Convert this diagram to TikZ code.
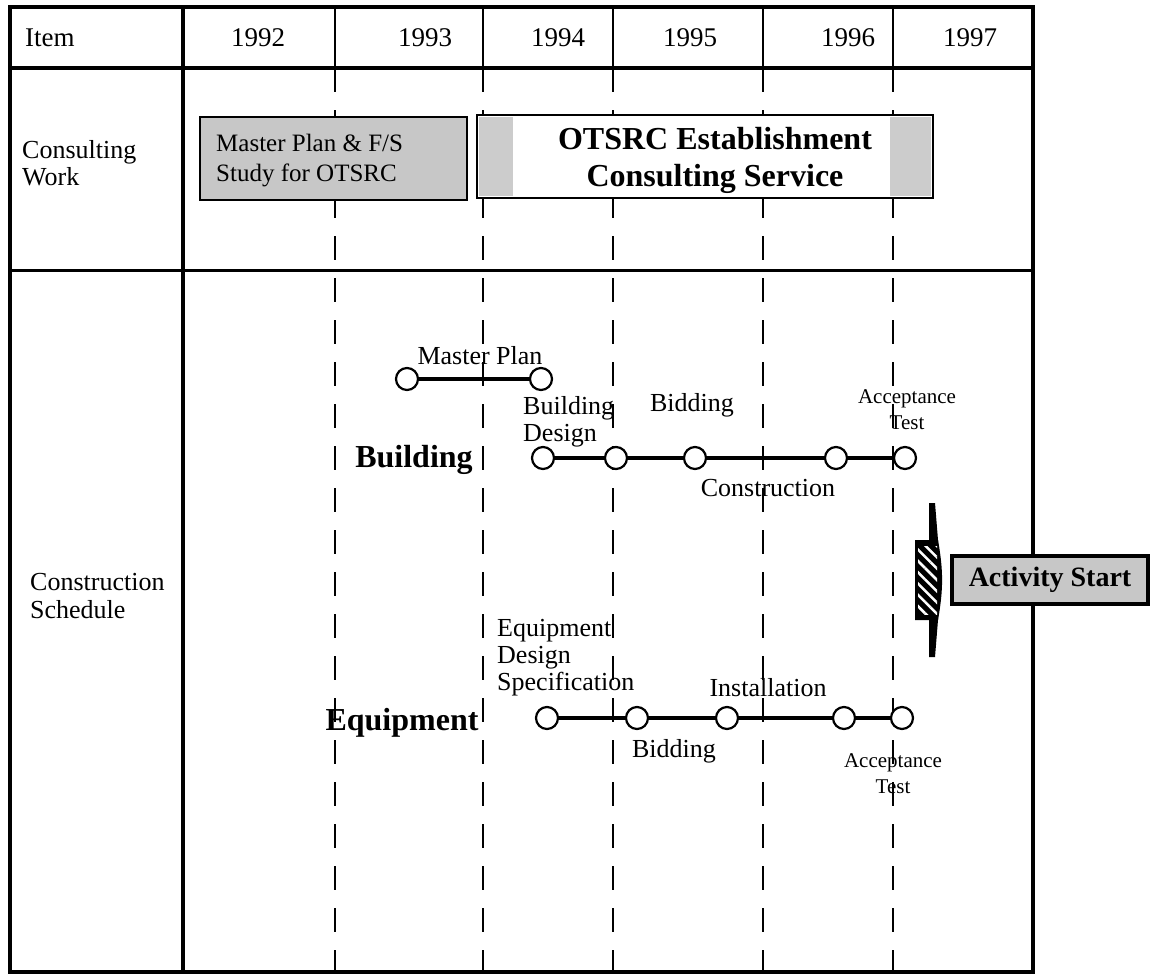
\documentclass[tikz,border=0pt]{standalone}
\usepackage{fontspec}
\setmainfont{Liberation Serif}
\usetikzlibrary{calc,patterns.meta}
\tikzset{
  head label/.style={font=\fontsize{27}{28}\selectfont,inner sep=0},
  item label/.style={font=\fontsize{26}{27}\selectfont,align=left,anchor=west,inner sep=0},
  step label/.style={font=\fontsize{26}{27}\selectfont,align=left,inner sep=0},
  small label/.style={font=\fontsize{21}{26}\selectfont,align=center,inner sep=0},
  bold label/.style={font=\fontsize{32}{36}\bfseries\selectfont,inner sep=0},
  milestone/.style={circle,draw,fill=white,line width=2.2pt,minimum size=22pt,inner sep=0},
  bar/.style={line width=3.5pt},
  year line/.style={line width=2.5pt,dash pattern=on 24pt off 18pt},
  start box/.style={draw,line width=4pt,fill=black!22,minimum width=196pt,minimum height=48pt,
    font=\fontsize{28}{30}\bfseries\selectfont}
}
\def\yearlines{335,483,613,763,893}
\def\tableL{10}
\def\tableR{1033}

\begin{document}
\begin{tikzpicture}[x=1pt,y=-1pt]
\useasboundingbox (0,0) rectangle (1151,978);
% 年の区切り線
\foreach \x in \yearlines {
  \draw[line width=2.5pt] (\x,7) -- (\x,68);
  \draw[year line] (\x,68) -- (\x,972);
}
% 表の枠
\draw[line width=3.5pt] (\tableL,7) rectangle (\tableR,972);
\draw[line width=3.5pt] (\tableL,68) -- (\tableR,68);
\draw[line width=3pt] (\tableL,270) -- (\tableR,270);
\draw[line width=3.5pt] (183,7) -- (183,972);
% 見出し
\node[head label,anchor=west] (item) at (25,38) {Item};
\foreach \x/\yr in {258/1992,425/1993,558/1994,690/1995,848/1996,970/1997}
  \node[head label] (y\yr) at (\x,38) {\yr};
\node[item label] (consulting) at (22,163) {Consulting\\Work};
\node[item label,font=\fontsize{26}{28}\selectfont] (schedule) at (30,596) {Construction\\Schedule};
% コンサルティング業務
\filldraw[draw=black,fill=black!22,line width=2.5pt] (200,117) rectangle (467,200);
\node[step label,font=\fontsize{25}{30}\selectfont,anchor=west] (mpfs) at (216,161) {Master Plan \& F/S\\Study for OTSRC};
\filldraw[draw=black,fill=white,line width=2.5pt] (477,115) rectangle (933,198);
\fill[black!20] (479,117) rectangle (513,196);
\fill[black!20] (890,117) rectangle (931,196);
\node[bold label,align=center,font=\fontsize{32}{37}\bfseries\selectfont] (otsrc) at (715,160) {OTSRC Establishment\\Consulting Service};
% マスタープラン
\node[milestone] (m1) at (407,379) {};
\node[milestone] (m2) at (541,379) {};
\draw[bar] (m1) -- (m2);
\node[step label] (masterplan) at (480,356) {Master Plan};
% 建物
\foreach \n/\x in {1/543,2/616,3/695,4/836,5/905}
  \node[milestone] (b\n) at (\x,458) {};
\foreach \a/\b in {b1/b2,b2/b3,b3/b4,b4/b5}
  \draw[bar] (\a) -- (\b);
\node[bold label] (building) at (414,460) {Building};
\node[step label,anchor=west] (bdesign) at (523,422) {Building\\Design};
\node[step label] (bbidding) at (692,405) {Bidding};
\node[step label] (bconstruction) at (768,488) {Construction};
\node[small label] (bacceptance) at (907,410) {Acceptance\\Test};
% 機器
\foreach \n/\x in {1/547,2/637,3/727,4/844,5/902}
  \node[milestone] (e\n) at (\x,718) {};
\foreach \a/\b in {e1/e2,e2/e3,e3/e4,e4/e5}
  \draw[bar] (\a) -- (\b);
\node[bold label] (equipment) at (402,723) {Equipment};
\node[step label,anchor=west] (edesign) at (497,658) {Equipment\\Design\\Specification};
\node[step label] (ebidding) at (674,751) {Bidding};
\node[step label] (einstallation) at (768,688) {Installation};
\node[small label] (eacceptance) at (893,774) {Acceptance\\Test};
% 活動開始
\fill (929,503) -- (935,503) -- (938,540) -- (938,620) -- (935,657) -- (929,657) -- cycle;
\fill (915,540) -- (938,540) to[bend left=10] (938,620) -- (915,620) -- cycle;
\fill[pattern={Lines[angle=-45,distance=8pt,line width=2.5pt]},pattern color=white] (918,546) rectangle (937,614);
\node[start box] (start) at (1050,580) {Activity Start};
\end{tikzpicture}
\end{document}
